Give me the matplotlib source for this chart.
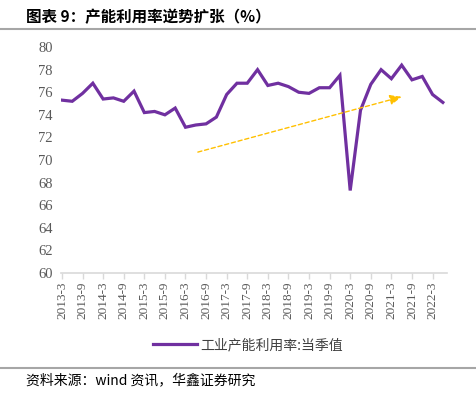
import matplotlib.pyplot as plt
import numpy as np

plt.rcParams['font.family'] = ['Noto Sans CJK SC', 'DejaVu Sans']

# quarterly industrial capacity utilisation, 2013Q1 - 2022Q2
quarters = []
for y in range(2013, 2023):
    for m in (3, 6, 9, 12):
        quarters.append("%d-%d" % (y, m))
quarters = quarters[:38]

values = [75.3, 75.2, 75.9, 76.8, 75.4, 75.5, 75.2, 76.1,
          74.2, 74.3, 74.0, 74.6, 72.9, 73.1, 73.2, 73.8,
          75.8, 76.8, 76.8, 78.0, 76.6, 76.8, 76.5, 76.0,
          75.9, 76.4, 76.4, 77.5, 67.3, 74.4, 76.7, 78.0,
          77.2, 78.4, 77.1, 77.4, 75.8, 75.1]

# trend arrow (category index, value)
arrow_start = (13.2, 70.7)
arrow_end = (33.0, 75.6)

fig = plt.figure(figsize=(4.76, 3.99), dpi=100)
ax = fig.add_axes([0.128, 0.316, 0.811, 0.566])

x = np.arange(len(values))
ax.plot(x, values, color="#7030A0", lw=2.3, label="工业产能利用率:当季值", solid_joinstyle="miter")

ax.annotate("", xy=arrow_end, xytext=arrow_start,
            arrowprops=dict(arrowstyle="-|>,head_length=0.7,head_width=0.3", color="#FFC000",
                            lw=1.0, linestyle=(0, (3, 2)), shrinkA=0, shrinkB=0))

ax.set_xlim(-0.1, 37.4)
ax.set_ylim(60, 80)
ax.set_yticks(np.arange(60, 81, 2))
ax.set_yticklabels([str(v) for v in range(60, 81, 2)], family="Liberation Serif",
                   fontsize=10.5, color="#595959")
ax.set_xticks(x[::2])
ax.set_xticklabels(quarters[::2], rotation=90, family="Liberation Serif",
                   fontsize=9.5, color="#595959")

for s in ["top", "right", "left"]:
    ax.spines[s].set_visible(False)
ax.spines["bottom"].set_color("#D9D9D9")
ax.spines["bottom"].set_linewidth(1.2)
ax.tick_params(axis="y", length=0, pad=6)
ax.tick_params(axis="x", length=4, color="#D9D9D9", width=1, pad=2)

leg = fig.legend(loc="center", bbox_to_anchor=(0.52, 0.135), frameon=False,
                 fontsize=10, handlelength=3.2, handletextpad=0.2)
for t in leg.get_texts():
    t.set_color("#404040")

fig.text(0.055, 0.958, "图表 9：产能利用率逆势扩张（%）", fontsize=11.2, fontweight="bold",
         color="#000000", va="center")
fig.add_artist(plt.Line2D([0, 1], [0.928, 0.928], color="#A6A6A6", lw=1.5))
fig.add_artist(plt.Line2D([0, 1], [0.077, 0.077], color="#A6A6A6", lw=1.5))
fig.text(0.055, 0.047, "资料来源：wind 资讯，华鑫证券研究", fontsize=10, color="#000000",
         va="center")

fig.savefig("out.png", dpi=100)
